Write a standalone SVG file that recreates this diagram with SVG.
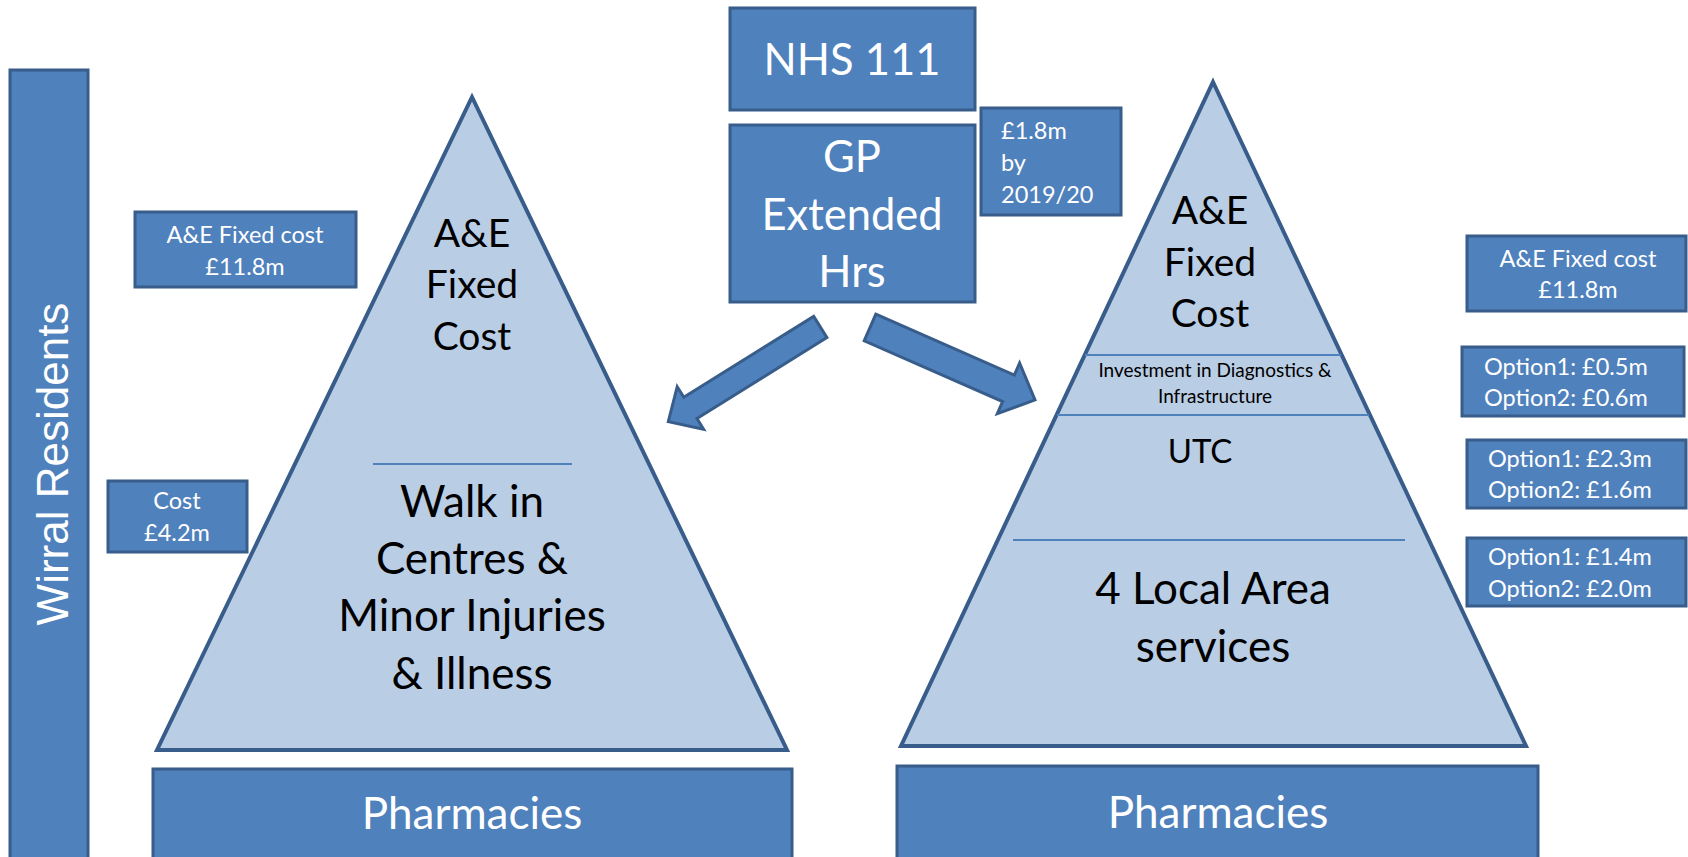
<svg xmlns="http://www.w3.org/2000/svg" width="1688" height="857" viewBox="0 0 1688 857">
<style>
.box{fill:#4F81BD;stroke:#385D8A;stroke-width:3}
.tri{fill:#B9CDE5;stroke:#385D8A;stroke-width:4;stroke-linejoin:miter}
.div{stroke:#4F81BD;stroke-width:2}
.arrow{fill:#4F81BD;stroke:#385D8A;stroke-width:3;stroke-linejoin:miter}
.w{fill:#FFFFFF;font-family:Lato,"Open Sans",sans-serif}
.b{fill:#000000;font-family:Lato,"Open Sans",sans-serif}
.c{text-anchor:middle}
</style>
<rect width="1688" height="857" fill="#FFFFFF"/>
<g id="wirral-residents">
<rect class="box" x="10" y="70" width="78" height="800"/>
<text transform="translate(68,464) rotate(-90)" text-anchor="middle" font-family="'Liberation Sans',Arial,sans-serif" font-size="44" fill="#FFFFFF">Wirral Residents</text>
</g>
<g id="nhs111">
<rect class="box" x="730" y="8" width="245" height="102"/>
<text class="w c" x="852" y="75" font-size="43.5">NHS 111</text>
</g>
<g id="gp-extended">
<rect class="box" x="730" y="125" width="245" height="177"/>
<text class="w c" font-size="43.5"><tspan x="852" y="172">GP</tspan><tspan x="852" y="230">Extended</tspan><tspan x="852" y="287">Hrs</tspan></text>
</g>
<g id="gp-cost">
<rect class="box" x="981" y="108" width="140" height="107"/>
<text class="w" font-size="23.5"><tspan x="1001" y="139">£1.8m</tspan><tspan x="1001" y="171">by</tspan><tspan x="1001" y="203">2019/20</tspan></text>
</g>
<g id="left-ae-cost">
<rect class="box" x="135" y="212" width="221" height="75"/>
<text class="w c" font-size="23.5"><tspan x="245" y="243">A&amp;E Fixed cost</tspan><tspan x="245" y="275">£11.8m</tspan></text>
</g>
<g id="left-wic-cost">
<rect class="box" x="108" y="481" width="139" height="71"/>
<text class="w c" font-size="23.5"><tspan x="177" y="509">Cost</tspan><tspan x="177" y="541">£4.2m</tspan></text>
</g>
<g id="left-pyramid">
<polygon class="tri" points="472,97 787,750 157,750"/>
<line class="div" x1="373" y1="464" x2="572" y2="464"/>
<text class="b c" font-size="39"><tspan x="472" y="247">A&amp;E</tspan><tspan x="472" y="298">Fixed</tspan><tspan x="472" y="350">Cost</tspan></text>
<text class="b c" font-size="44"><tspan x="472" y="517">Walk in</tspan><tspan x="472" y="574">Centres &amp;</tspan><tspan x="472" y="631">Minor Injuries</tspan><tspan x="472" y="689">&amp; Illness</tspan></text>
</g>
<g id="left-pharmacies">
<rect class="box" x="153" y="769" width="639" height="100"/>
<text class="w c" x="472" y="829" font-size="44">Pharmacies</text>
</g>
<g id="right-pyramid">
<polygon class="tri" points="1213,82 1526,746 901,746"/>
<line class="div" x1="1085" y1="355" x2="1341" y2="355"/>
<line class="div" x1="1057" y1="415" x2="1369" y2="415"/>
<line class="div" x1="1013" y1="540" x2="1405" y2="540"/>
<text class="b c" font-size="39"><tspan x="1210" y="224">A&amp;E</tspan><tspan x="1210" y="276">Fixed</tspan><tspan x="1210" y="327">Cost</tspan></text>
<text class="b c" font-size="19"><tspan x="1215" y="377">Investment in Diagnostics &amp;</tspan><tspan x="1215" y="403">Infrastructure</tspan></text>
<text class="b c" x="1200" y="463" font-size="33">UTC</text>
<text class="b c" font-size="44"><tspan x="1213" y="604">4 Local Area</tspan><tspan x="1213" y="662">services</tspan></text>
</g>
<g id="right-pharmacies">
<rect class="box" x="897" y="766" width="641" height="100"/>
<text class="w c" x="1218" y="828" font-size="44">Pharmacies</text>
</g>
<g id="right-ae-cost">
<rect class="box" x="1467" y="236" width="219" height="75"/>
<text class="w c" font-size="23.5"><tspan x="1578" y="267">A&amp;E Fixed cost</tspan><tspan x="1578" y="298">£11.8m</tspan></text>
</g>
<g id="option-diagnostics">
<rect class="box" x="1462" y="347" width="222" height="69"/>
<text class="w" font-size="23.5"><tspan x="1484" y="375">Option1: £0.5m</tspan><tspan x="1484" y="406">Option2: £0.6m</tspan></text>
</g>
<g id="option-utc">
<rect class="box" x="1467" y="440" width="219" height="68"/>
<text class="w" font-size="23.5"><tspan x="1488" y="467">Option1: £2.3m</tspan><tspan x="1488" y="498">Option2: £1.6m</tspan></text>
</g>
<g id="option-local">
<rect class="box" x="1467" y="538" width="219" height="68"/>
<text class="w" font-size="23.5"><tspan x="1488" y="565">Option1: £1.4m</tspan><tspan x="1488" y="597">Option2: £2.0m</tspan></text>
</g>
<g id="connectors">
<polygon class="arrow" points="813.7,316.4 826.9,337.6 697.0,418.6 703.6,429.2 668.3,421.7 677.2,386.7 683.8,397.3"/>
<polygon class="arrow" points="875.8,314.2 1014.3,375.1 1019.6,363.0 1035,400 997.3,413.7 1002.6,401.6 864.2,340.8"/>
</g>
</svg>
